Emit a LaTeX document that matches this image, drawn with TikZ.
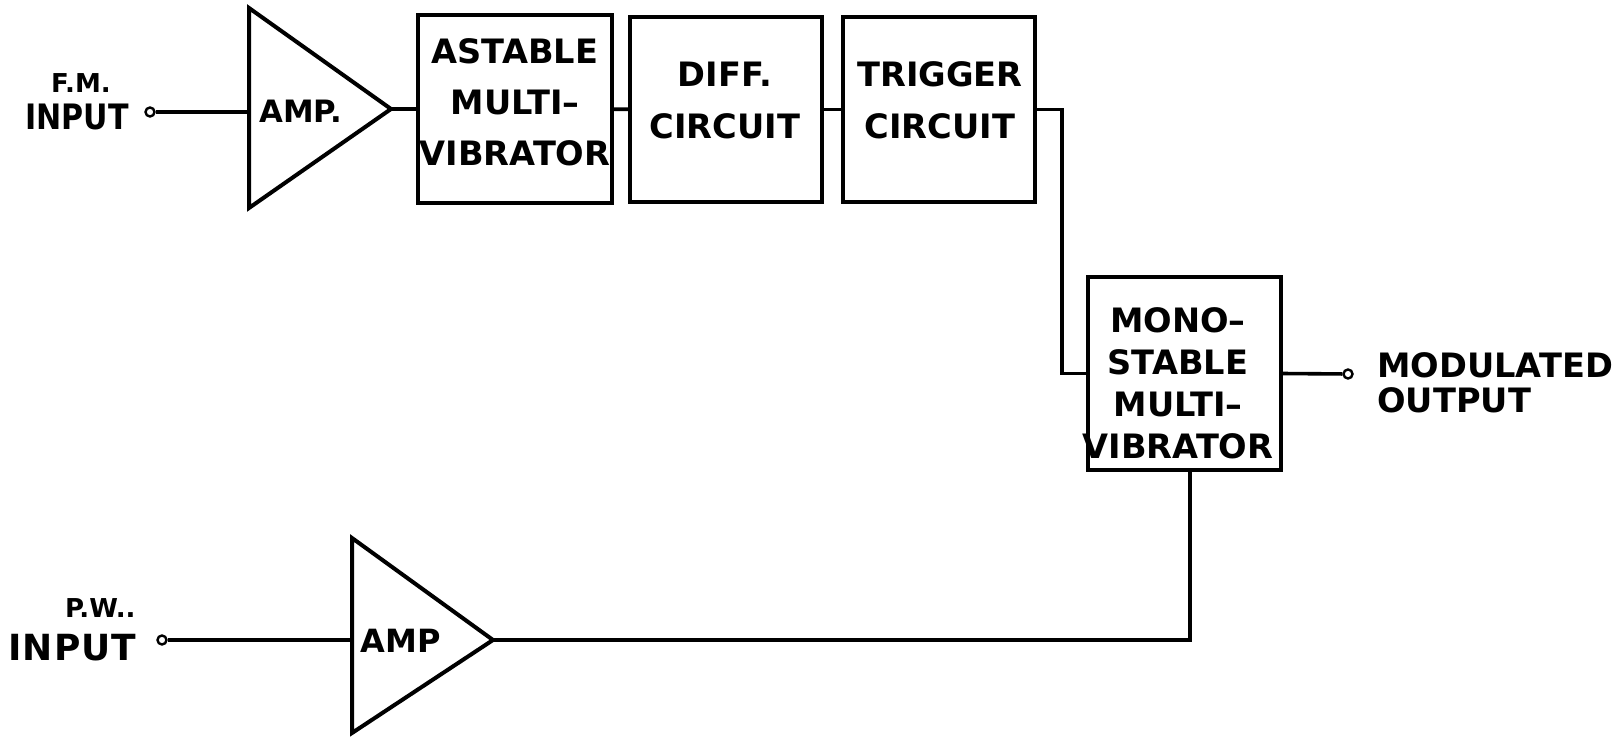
\documentclass[tikz,border=0pt]{standalone}
\usepackage{fontspec}
\usetikzlibrary{calc}
\setmainfont{DejaVu Sans}
\newfontfamily\lbl{DejaVu Sans}
\newfontfamily\lblc{DejaVu Sans}[FakeStretch=0.86]
\newfontfamily\lblw{DejaVu Sans}[LetterSpace=3]
\begin{document}
\begin{tikzpicture}[x=0.5pt,y=-0.5pt,
  blk/.style={draw, line width=2.3pt, rectangle, inner sep=0pt, outer sep=0pt},
  wire/.style={line width=1.8pt, line join=miter},
  tri/.style={line width=2pt, line join=miter},
  term/.style={circle, draw, line width=1.2pt, minimum size=4.5pt, inner sep=0pt},
  txt/.style={font=\lbl\bfseries\fontsize{16.8pt}{25.5pt}\selectfont, align=center, inner sep=0pt},
  small/.style={font=\lbl\bfseries\fontsize{13pt}{15pt}\selectfont, inner sep=0pt},
]
\useasboundingbox (0,0) rectangle (1621,737);

% blocks
\node[blk, minimum width=97pt, minimum height=94pt] (ast) at (515,109) {};
\node[blk, minimum width=96pt, minimum height=92.5pt] (dif) at (726,109.5) {};
\node[blk, minimum width=96pt, minimum height=92.5pt] (trg) at (939,109.5) {};
\node[blk, minimum width=96.5pt, minimum height=96.5pt] (mono) at (1184.5,373.5) {};

% amplifiers
\coordinate (a1t) at (249,8);
\coordinate (a1b) at (249,208);
\coordinate (a1o) at (391,109);
\coordinate (a1i) at (249,112);
\draw[tri] (a1t) -- (a1o) -- (a1b) -- cycle;
\coordinate (a2t) at (352,538);
\coordinate (a2b) at (352,733);
\coordinate (a2o) at (493,640);
\coordinate (a2i) at (352,640);
\draw[tri] (a2t) -- (a2o) -- (a2b) -- cycle;

% terminals
\node[term] (fmc) at (150,112) {};
\node[term] (pwc) at (162,640) {};
\node[term] (outc) at (1348,374) {};

% wires
\draw[wire] (fmc) -- (a1i);
\draw[wire] (a1o) -- (a1o -| ast.west);
\draw[wire] (ast) -- (dif);
\draw[wire] (dif) -- (trg);
\draw[wire] (trg.east) -- ++(27,0) |- (mono.west);
\draw[wire] (mono.east) -- (outc);
\draw[wire] (pwc) -- (a2i);
\draw[wire] (a2o) -| ($(mono.south)+(5.5,0)$);

% texts
\node[txt] (astT) at (515,102.5) {ASTABLE\\MULTI–\\VIBRATOR};
\node[txt, font=\lbl\bfseries\fontsize{16.8pt}{26pt}\selectfont] (difT) at (725,100) {DIFF.\\CIRCUIT};
\node[txt, font=\lbl\bfseries\fontsize{16.8pt}{26pt}\selectfont] (trgT) at (940,100) {TRIGGER\\CIRCUIT};
\node[txt, font=\lbl\bfseries\fontsize{16.8pt}{21pt}\selectfont] (monoT) at (1178,383) {MONO–\\STABLE\\MULTI–\\VIBRATOR};
\node[txt, align=left, anchor=west, font=\lbl\bfseries\fontsize{16.8pt}{17.5pt}\selectfont] (outT) at (1377,383) {MODULATED\\OUTPUT};
\node[small, anchor=base] (fmT) at (81,93) {F.M.};
\node[txt, font=\lblc\bfseries\fontsize{17.5pt}{20pt}\selectfont, anchor=base] (fmI) at (77,130) {INPUT};
\node[small, anchor=base east] (pwT) at (136,617) {P.W..};
\node[txt, font=\lblw\bfseries\fontsize{18pt}{20pt}\selectfont, anchor=base west] (pwI) at (8,660) {INPUT};
\node[txt, font=\lbl\bfseries\fontsize{15.4pt}{18pt}\selectfont, anchor=base west] (a1T) at (259,123) {AMP.};
\node[txt, font=\lbl\bfseries\fontsize{16pt}{20pt}\selectfont, anchor=base west] (a2T) at (360,652) {AMP};
\end{tikzpicture}
\end{document}
